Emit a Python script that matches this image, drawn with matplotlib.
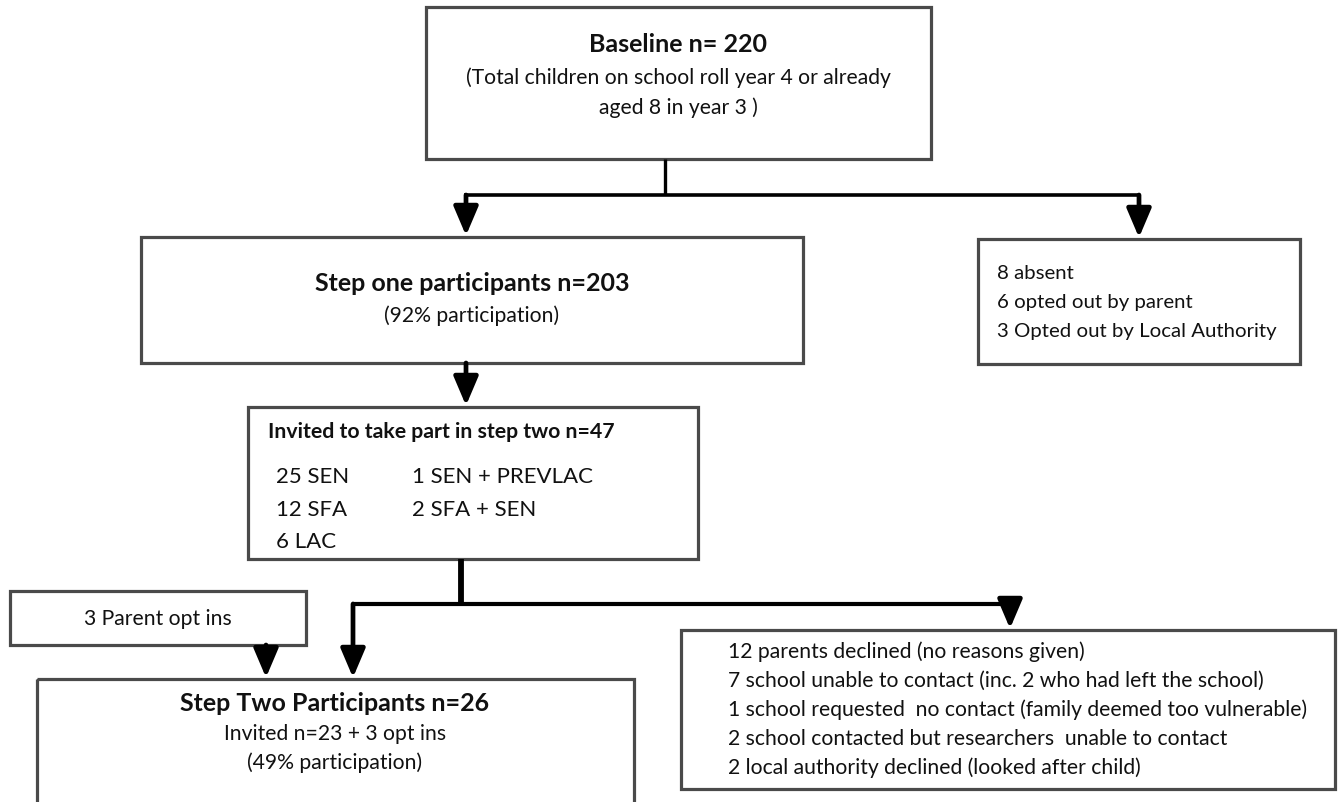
import matplotlib.pyplot as plt
from matplotlib.patches import Rectangle, FancyArrowPatch

plt.rcParams['font.family'] = ['Lato', 'DejaVu Sans']

# box texts
baseline_title = "Baseline n= 220"
baseline_note = ["(Total children on school roll year 4 or already", "aged 8 in year 3 )"]
step1_title = "Step one participants n=203"
step1_note = ["(92% participation)"]
excluded1 = ["8 absent", "6 opted out by parent", "3 Opted out by Local Authority"]
invited_title = "Invited to take part in step two n=47"
invited_left = ["25 SEN", "12 SFA", "6 LAC"]
invited_right = ["1 SEN + PREVLAC", "2 SFA + SEN"]
optin_text = "3 Parent opt ins"
step2_title = "Step Two Participants n=26"
step2_note = ["Invited n=23 + 3 opt ins", "(49% participation)"]
excluded2 = ["12 parents declined (no reasons given)",
             "7 school unable to contact (inc. 2 who had left the school)",
             "1 school requested  no contact (family deemed too vulnerable)",
             "2 school contacted but researchers  unable to contact",
             "2 local authority declined (looked after child)"]

fig = plt.figure(figsize=(13.38, 8.03), dpi=100)
ax = fig.add_axes([0, 0, 1, 1])
ax.set_xlim(0, 1338)
ax.set_ylim(803, 0)
ax.axis('off')

edge = '#4a4a4a'
txt = '#111111'
body = 15.2
head = 18


def box(x0, y0, x1, y1):
    ax.add_patch(Rectangle((x0, y0), x1 - x0, y1 - y0, fill=False,
                           edgecolor=edge, lw=2.3, zorder=2))


def line(xs, ys, lw=3.0):
    ax.plot(xs, ys, color='black', lw=lw, solid_capstyle='butt',
            solid_joinstyle='miter', zorder=3)


def arrow(x, y0, y1):
    ax.add_patch(FancyArrowPatch((x, y0), (x, y1), arrowstyle='-|>,head_length=0.8,head_width=0.34',
                                 mutation_scale=22, lw=3.4, color='black',
                                 shrinkA=0, shrinkB=1, zorder=3))


# boxes
box(426, 8, 931, 160)
box(141, 238, 803, 364)
box(978, 240, 1300, 365)
box(248, 408, 698, 560)
box(10, 592, 306, 646)
box(37, 680, 634, 830)
box(681, 631, 1335, 790)

# connectors
line([665, 665], [160, 196], lw=2.4)
line([464, 1140], [196, 196], lw=2.6)
arrow(466, 196, 238)
arrow(1139, 196, 240)
arrow(466, 364, 408)
line([461, 461], [560, 606], lw=4.2)
line([352, 1010], [605, 605], lw=3.0)
arrow(353, 605, 680)
arrow(1010, 605, 631)
arrow(266, 646, 680)

# text
ax.text(678, 44, baseline_title, ha='center', va='center', fontsize=head,
        fontweight='bold', color=txt)
for i, s in enumerate(baseline_note):
    ax.text(678, 78 + i * 30, s, ha='center', va='center', fontsize=body, color=txt)

ax.text(472, 284, step1_title, ha='center', va='center', fontsize=head,
        fontweight='bold', color=txt)
for i, s in enumerate(step1_note):
    ax.text(472, 316 + i * 30, s, ha='center', va='center', fontsize=body, color=txt)

for i, s in enumerate(excluded1):
    ax.text(997, 274 + i * 29, s, ha='left', va='center', fontsize=14.7, color=txt)

ax.text(268, 432, invited_title, ha='left', va='center', fontsize=15.3,
        fontweight='bold', color=txt)
for i, s in enumerate(invited_left):
    ax.text(276, 477 + i * 32.5, s, ha='left', va='center', fontsize=16, color=txt)
for i, s in enumerate(invited_right):
    ax.text(412, 477 + i * 32.5, s, ha='left', va='center', fontsize=16, color=txt)

ax.text(158, 619, optin_text, ha='center', va='center', fontsize=body, color=txt)

ax.text(335, 704, step2_title, ha='center', va='center', fontsize=head,
        fontweight='bold', color=txt)
for i, s in enumerate(step2_note):
    ax.text(335, 734 + i * 29, s, ha='center', va='center', fontsize=body, color=txt)

for i, s in enumerate(excluded2):
    ax.text(728, 652 + i * 29, s, ha='left', va='center', fontsize=body, color=txt)

fig.savefig('out.png', dpi=100)
